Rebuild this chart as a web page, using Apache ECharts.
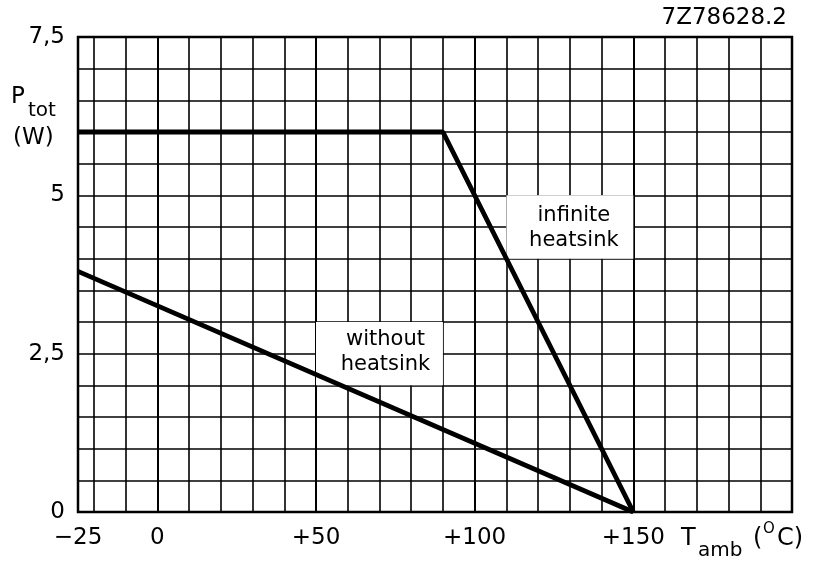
<!DOCTYPE html>
<html>
<head>
<meta charset="UTF-8">
<title>Ptot - Tamb</title>
<script src="https://cdn.jsdelivr.net/npm/echarts@6/dist/echarts.min.js"></script>
</head>
<body style="margin:0;background:#fff">
<div id="chart" style="width:814px;height:561px;"></div>
<script>
// derating curves
var infiniteT = [-25, 90, 150];
var infiniteP = [6, 6, 0];
var withoutT = [-25, 150];
var withoutP = [3.8, 0];
// tick labels
var xTickLabels = {'-25': '\u221225', '0': '0', '50': '+50', '100': '+100', '150': '+150'};
var yTickLabels = {'0': '0', '2.5': '2,5', '5': '5', '7.5': '7,5'};
// label boxes [T, P] corners
var infiniteBox = [[110, 5], [150, 4]];
var withoutBox = [[50, 3], [90, 2]];

function zip(a, b) {
	var out = [];
	for (var i = 0; i < a.length; i++) out.push([a[i], b[i]]);
	return out;
}

var font = 'DejaVu Sans';
var chart = echarts.init(document.getElementById('chart'));

// every 10 degrees a line, a bit heavier every 50
var minorX = [];
var majorX = [];
for (var i = 0; i < 10; i++) {
	minorX.push(i % 2 ? '#000' : 'rgba(0,0,0,0)');
	majorX.push(i == 5 ? '#000' : 'rgba(0,0,0,0)');
}

chart.setOption({
	animation : false,
	backgroundColor : '#fff',
	grid : {
		left : 78,
		right : 22,
		top : 37,
		bottom : 49,
		show : true,
		borderColor : '#000',
		borderWidth : 2.5,
		backgroundColor : 'transparent'
	},
	xAxis : [ {
		type : 'value',
		min : -25,
		max : 200,
		interval : 5,
		axisLine : { show : false },
		axisTick : { show : false },
		axisLabel : {
			margin : 15,
			fontFamily : font,
			fontSize : 23,
			color : '#000',
			formatter : function(v) {
				return xTickLabels[String(v)] || '';
			}
		},
		splitLine : { lineStyle : { color : minorX, width : 1.6 } }
	}, {
		type : 'value',
		min : -25,
		max : 200,
		interval : 5,
		position : 'bottom',
		axisLine : { show : false },
		axisTick : { show : false },
		axisLabel : { show : false },
		splitLine : { lineStyle : { color : majorX, width : 2 } }
	} ],
	yAxis : {
		type : 'value',
		min : 0,
		max : 7.5,
		interval : 0.5,
		axisLine : { show : false },
		axisTick : { show : false },
		axisLabel : {
			margin : 13,
			fontFamily : font,
			fontSize : 23,
			color : '#000',
			formatter : function(v) {
				return yTickLabels[String(v)] || '';
			}
		},
		splitLine : { lineStyle : { color : '#000', width : 1.6 } }
	},
	series : [ {
		name : 'infinite heatsink',
		type : 'line',
		data : zip(infiniteT, infiniteP),
		symbol : 'none',
		z : 5,
		lineStyle : { color : '#000', width : 4.8 },
		markArea : {
			silent : true,
			itemStyle : { color : '#fff' },
			label : {
				show : true,
				position : 'inside',
				fontFamily : font,
				fontSize : 21,
				lineHeight : 25,
				color : '#000',
				offset : [4, 1],
				formatter : 'infinite\nheatsink'
			},
			data : [ [ { coord : infiniteBox[0] }, { coord : infiniteBox[1] } ] ]
		}
	}, {
		name : 'without heatsink',
		type : 'line',
		data : zip(withoutT, withoutP),
		symbol : 'none',
		z : 5,
		lineStyle : { color : '#000', width : 4.8 },
		markArea : {
			silent : true,
			itemStyle : { color : '#fff' },
			label : {
				show : true,
				position : 'inside',
				fontFamily : font,
				fontSize : 21,
				lineHeight : 25,
				color : '#000',
				offset : [6, -2],
				formatter : 'without\nheatsink'
			},
			data : [ [ { coord : withoutBox[0] }, { coord : withoutBox[1] } ] ]
		}
	} ],
	graphic : [
		{ type : 'text', right : 27, top : 7, style : { text : '7Z78628.2', font : '23px ' + font, fill : '#000' } },
		{ type : 'text', left : 11, top : 86, style : { text : 'P', font : '23px ' + font, fill : '#000' } },
		{ type : 'text', left : 28, top : 101, style : { text : 'tot', font : '20px ' + font, fill : '#000' } },
		{ type : 'text', left : 13, top : 127, style : { text : '(W)', font : '23px ' + font, fill : '#000' } },
		{ type : 'text', left : 681, top : 527, style : { text : 'T', font : '24px ' + font, fill : '#000' } },
		{ type : 'text', left : 698, top : 541, style : { text : 'amb', font : '20px ' + font, fill : '#000' } },
		{ type : 'text', left : 753, top : 527, style : { text : '(', font : '24px ' + font, fill : '#000' } },
		{ type : 'text', left : 763, top : 522, style : { text : 'O', font : '15px ' + font, fill : '#000' } },
		{ type : 'text', left : 777, top : 527, style : { text : 'C)', font : '24px ' + font, fill : '#000' } }
	]
});
</script>
</body>
</html>
